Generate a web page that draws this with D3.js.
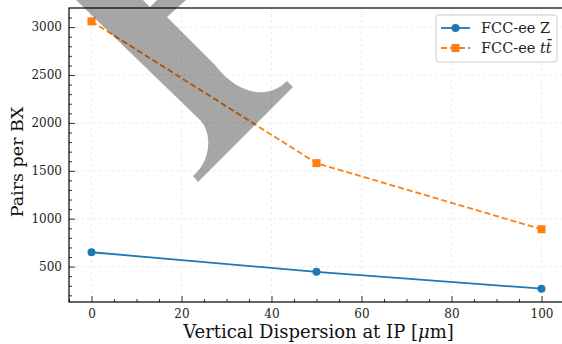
<!DOCTYPE html>
<html lang="en">
<head>
<meta charset="UTF-8">
<title>Pairs per BX</title>
<script src="https://cdn.jsdelivr.net/npm/d3@7"></script>
<style>
  body { margin: 0; background: #fff; }
  svg { display: block; font-family: "DejaVu Serif", serif; }
</style>
</head>
<body>
<script>
const dispersion = [0, 50, 100];
const pairsZ = [650, 445, 270];
const pairsTT = [3060, 1580, 890];
const xTicks = [0, 20, 40, 60, 80, 100];
const yTicks = [500, 1000, 1500, 2000, 2500, 3000];

const W = 562, H = 344;
const m = { left: 69, top: 8, right: 564, bottom: 302 };

const svg = d3.select('body').append('svg')
  .attr('width', W).attr('height', H);

const x = d3.scaleLinear().domain([-5, 105]).range([m.left, m.right]);
// matplotlib style 5% margins
const all = pairsZ.concat(pairsTT);
const lo = d3.min(all), hi = d3.max(all), pad = (hi - lo) * 0.05;
const y = d3.scaleLinear().domain([lo - pad, hi + pad]).range([m.bottom, m.top]);

// grid
svg.append('g').selectAll('line').data(xTicks).join('line')
  .attr('x1', d => x(d)).attr('x2', d => x(d))
  .attr('y1', m.top).attr('y2', m.bottom)
  .attr('stroke', '#e6e6e6').attr('stroke-width', 0.8).attr('stroke-dasharray', '3,3');
svg.append('g').selectAll('line').data(yTicks).join('line')
  .attr('x1', m.left).attr('x2', m.right)
  .attr('y1', d => y(d)).attr('y2', d => y(d))
  .attr('stroke', '#e6e6e6').attr('stroke-width', 0.8).attr('stroke-dasharray', '3,3');

// axes, ticks inward
const fmt = d3.format('d');
const xAxis = svg.append('g').attr('transform', `translate(0,${m.bottom})`)
  .call(d3.axisBottom(x).tickValues(xTicks).tickFormat(fmt).tickSizeInner(-6).tickSizeOuter(0).tickPadding(7));
const xMinor = svg.append('g').attr('transform', `translate(0,${m.bottom})`)
  .call(d3.axisBottom(x).tickValues(d3.range(-5, 106, 5).filter(v => v % 20 !== 0)).tickSize(-3).tickFormat(''));
const yAxis = svg.append('g').attr('transform', `translate(${m.left},0)`)
  .call(d3.axisLeft(y).tickValues(yTicks).tickFormat(fmt).tickSizeInner(-6).tickSizeOuter(0).tickPadding(7));
const yMinor = svg.append('g').attr('transform', `translate(${m.left},0)`)
  .call(d3.axisLeft(y).tickValues(d3.range(200, 3200, 100).filter(v => v % 500 !== 0)).tickSize(-3).tickFormat(''));

[xAxis, yAxis, xMinor, yMinor].forEach(g => {
  g.select('.domain').remove();
  g.selectAll('line').attr('stroke', '#000').attr('stroke-width', 0.8);
  g.selectAll('text').attr('font-family', '"DejaVu Serif", serif').attr('font-size', 12).attr('fill', '#222');
});

// spines (right one falls just outside the picture)
svg.append('rect')
  .attr('x', m.left).attr('y', m.top)
  .attr('width', m.right - m.left).attr('height', m.bottom - m.top)
  .attr('fill', 'none').attr('stroke', '#000').attr('stroke-width', 1.2);

const line = d3.line().x((d, i) => x(dispersion[i])).y(d => y(d));

// Z series
svg.append('path').datum(pairsZ).attr('d', line)
  .attr('fill', 'none').attr('stroke', '#1f77b4').attr('stroke-width', 1.8);
svg.append('g').selectAll('circle').data(pairsZ).join('circle')
  .attr('cx', (d, i) => x(dispersion[i])).attr('cy', d => y(d)).attr('r', 4)
  .attr('fill', '#1f77b4');

// ttbar series
svg.append('path').datum(pairsTT).attr('d', line)
  .attr('fill', 'none').attr('stroke', '#ff7f0e').attr('stroke-width', 1.8)
  .attr('stroke-dasharray', '6,3');
svg.append('g').selectAll('rect').data(pairsTT).join('rect')
  .attr('x', (d, i) => x(dispersion[i]) - 4).attr('y', d => y(d) - 4)
  .attr('width', 8).attr('height', 8)
  .attr('fill', '#ff7f0e');

// grey watermark glyph over the top
svg.append('path')
  .attr('d', 'M76,0 L200,120 C212,132 212,160 193,176 L198,182 L293,87 L287,81 C268,100 238,95 215,65 L167,17 L186,0 L157,0 L150,7 L143,0 Z')
  .attr('fill', '#000').attr('fill-opacity', 0.35);

// legend
const lg = svg.append('g').attr('transform', 'translate(436,15)');
lg.append('rect').attr('width', 121).attr('height', 47).attr('rx', 3)
  .attr('fill', '#fff').attr('fill-opacity', 0.8).attr('stroke', '#ccc').attr('stroke-width', 1);
lg.append('line').attr('x1', 5).attr('x2', 34).attr('y1', 13).attr('y2', 13)
  .attr('stroke', '#1f77b4').attr('stroke-width', 1.8);
lg.append('circle').attr('cx', 19.5).attr('cy', 13).attr('r', 4).attr('fill', '#1f77b4');
lg.append('line').attr('x1', 5).attr('x2', 34).attr('y1', 33).attr('y2', 33)
  .attr('stroke', '#ff7f0e').attr('stroke-width', 1.8).attr('stroke-dasharray', '6,3');
lg.append('rect').attr('x', 15.5).attr('y', 29).attr('width', 8).attr('height', 8).attr('fill', '#ff7f0e');
lg.append('text').attr('x', 45).attr('y', 18).attr('font-size', 14.5).attr('fill', '#222').text('FCC-ee Z');
const t2 = lg.append('text').attr('x', 45).attr('y', 38).attr('font-size', 14.5).attr('fill', '#222');
t2.append('tspan').text('FCC-ee ');
t2.append('tspan').attr('font-style', 'italic').text('tt̄');

// axis labels
const xl = svg.append('text').attr('x', (91.5 + 541.5) / 2 + 2).attr('y', 338)
  .attr('text-anchor', 'middle').attr('font-size', 18).attr('fill', '#111');
xl.append('tspan').text('Vertical Dispersion at IP [');
xl.append('tspan').attr('font-style', 'italic').text('μ');
xl.append('tspan').text('m]');
svg.append('text').attr('transform', `translate(23,${(m.top + m.bottom) / 2 + 7}) rotate(-90)`)
  .attr('text-anchor', 'middle').attr('font-size', 17.5).attr('fill', '#111')
  .text('Pairs per BX');
</script>
</body>
</html>
